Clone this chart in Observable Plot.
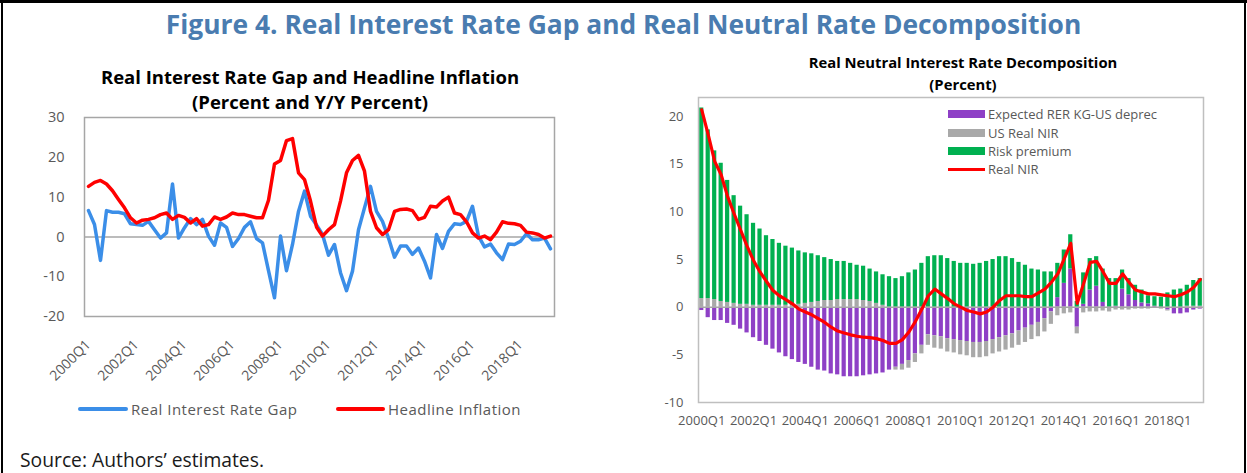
<!DOCTYPE html>
<html>
<head>
<meta charset="utf-8">
<script src="https://cdn.jsdelivr.net/npm/d3@7"></script>
<script src="https://cdn.jsdelivr.net/npm/@observablehq/plot@0.6"></script>
<style>
html,body{margin:0;padding:0;background:#fff;}
#fig{position:relative;width:1247px;height:473px;overflow:hidden;background:#fff;font-family:"Open Sans","Noto Sans",sans-serif;}
.abs{position:absolute;}
#title{left:0;top:6px;width:1247px;text-align:center;font-size:26.4px;font-weight:700;color:#4a7cb0;white-space:nowrap;}
#lt{left:30px;top:64px;width:560px;text-align:center;font-size:18.5px;font-weight:700;line-height:25px;color:#000;white-space:nowrap;}
#rt{left:763px;top:51px;width:400px;text-align:center;font-size:14.8px;font-weight:700;line-height:22px;color:#000;white-space:nowrap;}
#src{left:20px;top:446px;font-size:19.3px;color:#1a1a1a;white-space:nowrap;}
.leg{position:absolute;color:#595959;white-space:nowrap;}
.sw{position:absolute;}
svg{max-width:none !important;}
</style>
</head>
<body>
<div id="fig">
 <div class="abs" style="left:0;top:0;width:1247px;height:3px;background:#000"></div>
 <div class="abs" style="left:1px;top:0;width:2px;height:473px;background:#000"></div>
 <div class="abs" style="left:1244px;top:0;width:2px;height:473px;background:#000"></div>
 <div id="title" class="abs">Figure 4. Real Interest Rate Gap and Real Neutral Rate Decomposition</div>
 <div id="lt" class="abs">Real Interest Rate Gap and Headline Inflation<br>(Percent and Y/Y Percent)</div>
 <div id="rt" class="abs">Real Neutral Interest Rate Decomposition<br>(Percent)</div>
 <div id="left" class="abs" style="left:0;top:110px;width:600px;height:266px"></div>
 <div id="right" class="abs" style="left:650px;top:90px;width:600px;height:342px"></div>
 <div id="legL"></div>
 <div id="legR"></div>
 <div id="src" class="abs">Source: Authors’ estimates.</div>
</div>
<script>
// ---------- categories ----------
const quarters = [];
for (let y = 2000; y <= 2019; y++) for (let q = 1; q <= 4; q++) quarters.push(`${y}Q${q}`);
quarters.length = 78; // 2000Q1 – 2019Q2
const tickLabels = ["2000Q1","2002Q1","2004Q1","2006Q1","2008Q1","2010Q1","2012Q1","2014Q1","2016Q1","2018Q1"];

// ---------- left panel ----------
const rateGap = [6.6,3.1,-5.9,6.6,6.2,6.2,5.8,3.3,3.1,2.9,
  3.9,1.8,-0.3,1.0,13.3,-0.3,2.3,4.6,3.1,4.4,
  0.2,-2.1,3.5,2.4,-2.4,-0.4,2.4,3.8,-0.4,-1.5,
  -8.5,-15.3,0.2,-8.5,-1.9,6.4,11.5,5.2,3.0,0.6,
  -4.6,-1.9,-9.0,-13.5,-8.6,1.8,7.3,12.7,6.4,3.9,
  -0.3,-5.1,-2.3,-2.3,-4.4,-2.8,-6.1,-10.3,0.6,-2.9,
  1.4,3.3,3.1,3.9,7.7,0.2,-2.5,-1.8,-4.0,-5.7,
  -1.8,-1.9,-1.1,0.8,-0.7,-0.7,-0.3,-3.0];
const inflation = [12.7,13.7,14.2,13.3,11.6,9.4,7.3,4.8,3.5,4.2,
  4.4,4.8,5.6,6.0,4.4,5.4,4.9,3.5,4.6,2.7,
  3.1,5.0,4.4,5.0,6.0,5.6,5.6,5.2,4.8,4.8,
  9.2,18.3,19.2,24.2,24.7,16.1,14.4,9.0,2.5,0.2,
  1.8,3.1,9.0,16.1,19.2,20.5,16.5,6.4,2.3,0.6,
  1.8,6.4,6.9,7.0,6.6,4.4,4.9,7.7,7.5,9.0,
  10.0,6.0,5.6,3.8,1.0,-0.3,0.2,-0.7,1.2,3.8,
  3.4,3.3,2.9,1.2,1.0,0.6,-0.3,0.2];

// ---------- right panel ----------
const expDeprec = [-0.35,-1.1,-1.4,-1.4,-1.7,-1.9,-2.3,-2.7,-3.2,-3.6,
  -4.0,-4.4,-4.8,-5.2,-5.5,-5.8,-6.0,-6.3,-6.6,-6.7,
  -7.0,-7.1,-7.3,-7.3,-7.3,-7.2,-7.1,-7.0,-6.9,-6.6,
  -6.3,-6.0,-5.6,-4.9,-4.0,-2.9,-3.0,-3.1,-3.3,-3.4,
  -3.5,-3.6,-3.7,-3.7,-3.6,-3.4,-3.2,-3.0,-2.8,-2.5,
  -2.2,-1.9,-1.6,-1.2,-0.5,1.0,2.5,4.0,-2.1,0.3,
  1.8,2.2,0.5,-0.1,0.1,1.9,1.3,0.7,0.45,0.35,
  0.1,-0.1,-0.3,-0.7,-0.7,-0.6,-0.3,-0.2];
const usRealNIR = [0.9,0.9,0.8,0.6,0.5,0.4,0.3,0.3,0.2,0.2,
  0.2,0.2,0.2,0.2,0.2,0.3,0.4,0.5,0.6,0.7,
  0.7,0.8,0.8,0.8,0.8,0.7,0.6,0.4,0.2,0.0,
  -0.3,-0.6,-0.8,-0.9,-0.9,-1.1,-1.3,-1.3,-1.4,-1.4,
  -1.5,-1.5,-1.6,-1.6,-1.6,-1.5,-1.5,-1.5,-1.5,-1.5,
  -1.5,-1.5,-1.5,-1.4,-1.3,-0.9,-0.7,-0.6,-0.7,-0.6,
  -0.5,-0.5,-0.4,-0.4,-0.3,-0.3,-0.3,-0.2,-0.2,-0.2,
  -0.1,-0.1,-0.1,0.0,0.0,0.1,0.1,0.1];
const riskPremium = [20.0,17.7,15.6,14.5,12.8,11.3,10.3,9.4,8.6,8.0,
  7.3,6.9,6.5,6.2,6.0,5.6,5.3,5.1,4.8,4.5,
  4.3,4.0,4.0,3.8,3.6,3.6,3.4,3.3,3.2,3.2,
  3.0,3.2,3.6,3.9,4.6,5.3,5.4,5.4,5.1,4.8,
  4.6,4.6,4.5,4.6,4.8,5.0,5.3,5.3,5.1,4.7,
  4.4,4.0,3.9,3.7,3.7,3.6,3.5,3.6,0.6,3.3,
  3.3,3.1,3.5,3.0,2.9,2.0,1.7,1.6,1.35,0.85,
  1.0,1.05,1.5,1.8,1.9,2.2,2.7,2.9];
const realNIR = [20.7,18.1,15.3,13.9,11.6,9.8,8.1,6.4,4.9,3.7,
  2.7,1.75,1.2,0.8,0.35,-0.2,-0.5,-0.8,-1.2,-1.6,
  -2.1,-2.5,-2.7,-2.9,-3.05,-3.15,-3.2,-3.3,-3.5,-3.8,
  -3.8,-3.4,-2.6,-1.5,-0.2,1.2,1.9,1.4,0.9,0.35,
  0.0,-0.35,-0.5,-0.7,-0.5,0.0,0.7,1.2,1.2,1.2,
  1.1,1.1,1.5,1.9,2.6,3.5,5.1,6.7,0.4,2.5,
  4.7,4.8,3.7,2.5,2.5,3.5,2.6,1.8,1.6,1.4,
  1.4,1.3,1.2,1.1,1.3,1.6,2.1,2.9];

const leftSeries = ["Real Interest Rate Gap","Headline Inflation"];
const leftColors = ["#3b8ee8","#ff0000"];
const rightSeries = ["Expected RER KG-US deprec","US Real NIR","Risk premium","Real NIR"];
const rightColors = ["#8e40c6","#a9a9a9","#00b050","#ff0000"];

const plainFmt = d => String(d); // hyphen-minus like the original

// ---------- build left ----------
const leftRows = quarters.flatMap((q,i)=>[
  {q, s:leftSeries[0], v:rateGap[i]},
  {q, s:leftSeries[1], v:inflation[i]}
]);
const leftPlot = Plot.plot({
  width:600, height:266,
  marginLeft:84, marginRight:46, marginTop:7, marginBottom:60,
  style:{fontFamily:"Open Sans, Noto Sans, sans-serif", fontSize:"14.5px", color:"#595959", background:"transparent", overflow:"visible"},
  x:{type:"point", domain:quarters, padding:0.5, axis:null},
  y:{domain:[-20,30], ticks:[-20,-10,0,10,20,30], tickFormat:plainFmt, tickSize:0, tickPadding:20, label:null},
  color:{domain:leftSeries, range:leftColors},
  marks:[
    Plot.ruleY([0], {stroke:"#a6a6a6", strokeWidth:1.5}),
    Plot.line(leftRows, {x:"q", y:"v", z:"s", stroke:"s", strokeWidth:3.5, strokeLinejoin:"round", strokeLinecap:"round"}),
    Plot.text(tickLabels, {x:d=>d, text:d=>d, frameAnchor:"bottom", dy:29, dx:3, rotate:-45, textAnchor:"end", fontSize:14, fill:"#595959"}),
    Plot.frame({stroke:"#a6a6a6", strokeWidth:1.5})
  ]
});
document.getElementById("left").appendChild(leftPlot);

// ---------- build right ----------
const stackRows = quarters.flatMap((q,i)=>[
  {q, s:rightSeries[0], v:expDeprec[i]},
  {q, s:rightSeries[1], v:usRealNIR[i]},
  {q, s:rightSeries[2], v:riskPremium[i]}
]);
const nirRows = quarters.map((q,i)=>({q, v:realNIR[i]}));
const rightPlot = Plot.plot({
  width:600, height:342,
  marginLeft:48, marginRight:47, marginTop:7, marginBottom:30,
  style:{fontFamily:"Open Sans, Noto Sans, sans-serif", fontSize:"13px", color:"#595959", background:"transparent", overflow:"visible"},
  x:{type:"band", domain:quarters, paddingInner:0.35, paddingOuter:0.175, ticks:tickLabels, tickSize:0, tickPadding:13, label:null},
  y:{domain:[-10,22], ticks:[-10,-5,0,5,10,15,20], tickFormat:plainFmt, tickSize:0, tickPadding:15, label:null},
  color:{domain:rightSeries, range:rightColors},
  marks:[
    Plot.barY(stackRows, {x:"q", y:"v", fill:"s"}),
    Plot.ruleY([0], {stroke:"#a6a6a6", strokeWidth:1.5}),
    Plot.line(nirRows, {x:"q", y:"v", stroke:rightColors[3], strokeWidth:3.2, strokeLinejoin:"round"}),
    Plot.frame({stroke:"#bfbfbf", strokeWidth:1.5})
  ]
});
document.getElementById("right").appendChild(rightPlot);

// ---------- legends ----------
const legL = document.getElementById("legL");
[[78,128,131],[336,385,388]].forEach(([x0,x1,tx],k)=>{
  const sw = document.createElement("div");
  sw.className="sw";
  sw.style.cssText=`left:${x0}px;top:${409-1.75}px;width:${x1-x0}px;height:3.5px;background:${leftColors[k]};border-radius:2px`;
  legL.appendChild(sw);
  const t = document.createElement("div");
  t.className="leg";
  t.style.cssText=`left:${tx}px;top:${409-11}px;font-size:15px;letter-spacing:0.5px;line-height:22px`;
  t.textContent=leftSeries[k];
  legL.appendChild(t);
});
const legR = document.getElementById("legR");
[114.3,132.7,151.3,169.3].forEach((cy,k)=>{
  const sw = document.createElement("div");
  sw.className="sw";
  const h = k<3 ? 8 : 3;
  sw.style.cssText=`left:948px;top:${cy-h/2}px;width:37px;height:${h}px;background:${rightColors[k]}`;
  legR.appendChild(sw);
  const t = document.createElement("div");
  t.className="leg";
  t.style.cssText=`left:988px;top:${cy-10}px;font-size:13px;line-height:20px`;
  t.textContent=rightSeries[k];
  legR.appendChild(t);
});
</script>
</body>
</html>
